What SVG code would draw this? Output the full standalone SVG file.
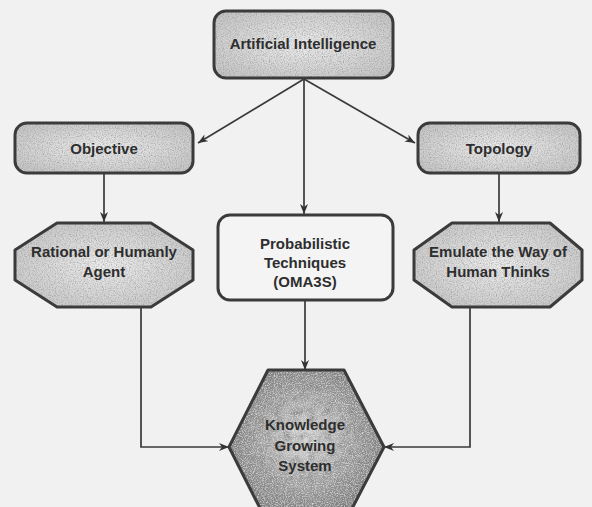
<svg xmlns="http://www.w3.org/2000/svg" width="592" height="507" viewBox="0 0 592 507">
  <defs>
    <style>
      .edge { fill: none; stroke: #3a3a3a; stroke-width: 1.7; }
      .outline { fill: none; stroke: #3b3b3b; stroke-width: 3; stroke-linejoin: round; }
      .label { font-family: "Liberation Sans", Arial, sans-serif; font-weight: bold; font-size: 15px; fill: #2e2e2e; text-anchor: middle; }
      .grainy { fill: url(#lightFill); filter: url(#grain); }
    </style>
    <radialGradient id="lightFill" cx="50%" cy="50%" r="65%">
      <stop offset="0" stop-color="#ececec"/>
      <stop offset="1" stop-color="#c4c4c4"/>
    </radialGradient>
    <radialGradient id="darkFill" cx="50%" cy="45%" r="60%">
      <stop offset="0" stop-color="#d4d4d4"/>
      <stop offset="0.55" stop-color="#9a9a9a"/>
      <stop offset="1" stop-color="#6c6c6c"/>
    </radialGradient>
    <!-- speckled print texture -->
    <filter id="grain" x="0" y="0" width="100%" height="100%">
      <feTurbulence type="fractalNoise" baseFrequency="0.85" numOctaves="2" seed="4" result="noise"/>
      <feColorMatrix in="noise" type="matrix" values="0 0 0 0 0.3  0 0 0 0 0.3  0 0 0 0 0.3  1.8 0 0 0 -0.75" result="dots"/>
      <feComposite in="dots" in2="SourceGraphic" operator="in" result="clipped"/>
      <feMerge><feMergeNode in="SourceGraphic"/><feMergeNode in="clipped"/></feMerge>
    </filter>
    <filter id="mottle" x="0" y="0" width="100%" height="100%">
      <feTurbulence type="fractalNoise" baseFrequency="0.12" numOctaves="3" seed="9" result="blot"/>
      <feColorMatrix in="blot" type="matrix" values="0 0 0 0 0.25  0 0 0 0 0.25  0 0 0 0 0.25  2.2 0 0 0 -0.9" result="blots"/>
      <feTurbulence type="fractalNoise" baseFrequency="0.9" numOctaves="2" seed="2" result="fine"/>
      <feColorMatrix in="fine" type="matrix" values="0 0 0 0 0.9  0 0 0 0 0.9  0 0 0 0 0.9  1.6 0 0 0 -0.7" result="specks"/>
      <feComposite in="blots" in2="SourceGraphic" operator="in" result="b2"/>
      <feComposite in="specks" in2="SourceGraphic" operator="in" result="s2"/>
      <feMerge><feMergeNode in="SourceGraphic"/><feMergeNode in="b2"/><feMergeNode in="s2"/></feMerge>
    </filter>
    <marker id="arrow" viewBox="0 0 10 8" refX="10" refY="4" markerWidth="10" markerHeight="8" markerUnits="userSpaceOnUse" orient="auto">
      <path d="M0,0 L10,4 L0,8 L3,4 z" fill="#333"/>
    </marker>
  </defs>

  <rect width="592" height="507" fill="#f1f1f1"/>

  <!-- connectors -->
  <g id="connectors">
    <line class="edge" x1="304" y1="79" x2="198" y2="143" marker-end="url(#arrow)"/>
    <line class="edge" x1="304" y1="79" x2="415" y2="143" marker-end="url(#arrow)"/>
    <line class="edge" x1="304" y1="79" x2="304" y2="214" marker-end="url(#arrow)"/>
    <line class="edge" x1="104" y1="173" x2="104" y2="222" marker-end="url(#arrow)"/>
    <line class="edge" x1="499" y1="173" x2="499" y2="222" marker-end="url(#arrow)"/>
    <line class="edge" x1="305" y1="300" x2="305" y2="370" marker-end="url(#arrow)"/>
    <polyline class="edge" points="141,307 141,447 229,447" marker-end="url(#arrow)"/>
    <polyline class="edge" points="470,307 470,447 384,447" marker-end="url(#arrow)"/>
  </g>

  <g id="node-ai">
    <rect class="grainy" x="214" y="11" width="179" height="67" rx="12"/>
    <rect class="outline" x="214" y="11" width="179" height="67" rx="12"/>
    <text class="label" x="303" y="49">Artificial Intelligence</text>
  </g>

  <g id="node-objective">
    <rect class="grainy" x="15" y="123" width="178" height="50" rx="12"/>
    <rect class="outline" x="15" y="123" width="178" height="50" rx="12"/>
    <text class="label" x="104" y="154">Objective</text>
  </g>

  <g id="node-topology">
    <rect class="grainy" x="418" y="123" width="162" height="50" rx="12"/>
    <rect class="outline" x="418" y="123" width="162" height="50" rx="12"/>
    <text class="label" x="499" y="154">Topology</text>
  </g>

  <g id="node-rational">
    <polygon class="grainy" points="57,223 151,223 193,250 193,280 151,307 57,307 15,280 15,250"/>
    <polygon class="outline" points="57,223 151,223 193,250 193,280 151,307 57,307 15,280 15,250"/>
    <text class="label" x="104" y="257">Rational or Humanly</text>
    <text class="label" x="104" y="277">Agent</text>
  </g>

  <g id="node-probabilistic">
    <rect x="218" y="215" width="175" height="85" rx="12" fill="#f4f4f4"/>
    <rect class="outline" x="218" y="215" width="175" height="85" rx="12"/>
    <text class="label" x="305" y="249">Probabilistic</text>
    <text class="label" x="305" y="268">Techniques</text>
    <text class="label" x="305" y="287">(OMA3S)</text>
  </g>

  <g id="node-emulate">
    <polygon class="grainy" points="452,223 550,223 582,250 582,280 550,307 452,307 414,280 414,250"/>
    <polygon class="outline" points="452,223 550,223 582,250 582,280 550,307 452,307 414,280 414,250"/>
    <text class="label" x="498" y="257">Emulate the Way of</text>
    <text class="label" x="498" y="277">Human Thinks</text>
  </g>

  <g id="node-kgs">
    <polygon points="268,370 344,370 384,447 344,524 268,524 229,447" fill="url(#darkFill)" filter="url(#mottle)"/>
    <polygon class="outline" points="268,370 344,370 384,447 344,524 268,524 229,447"/>
    <text class="label" x="305" y="430" fill="#3a3a3a">Knowledge</text>
    <text class="label" x="305" y="451" fill="#3a3a3a">Growing</text>
    <text class="label" x="305" y="471" fill="#3a3a3a">System</text>
  </g>
</svg>
